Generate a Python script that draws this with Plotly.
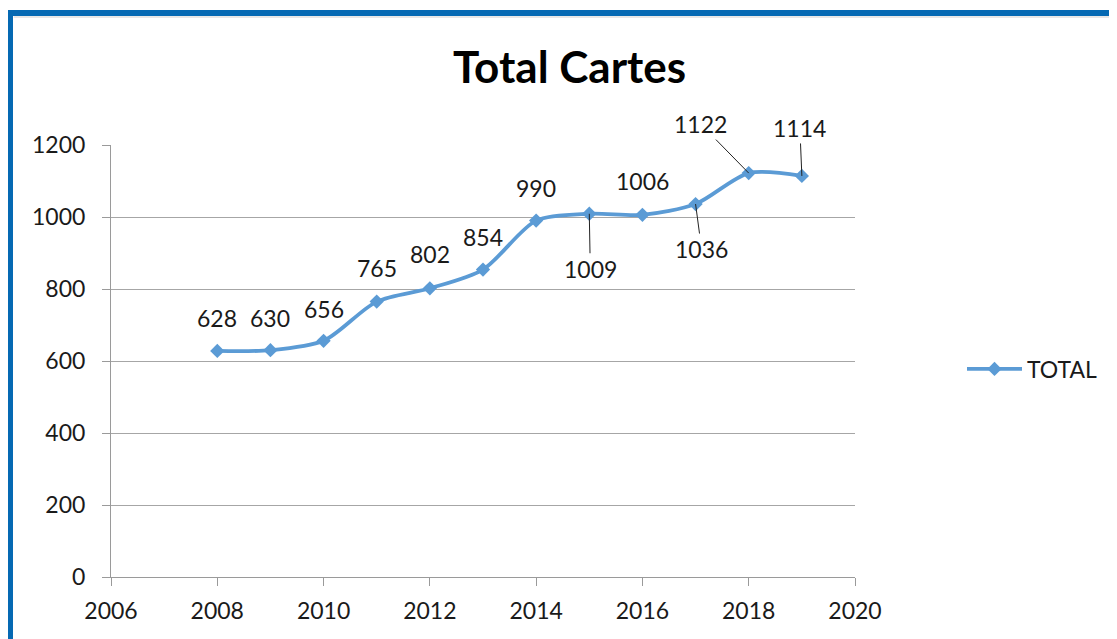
import plotly.graph_objects as go

years = [2008, 2009, 2010, 2011, 2012, 2013, 2014, 2015, 2016, 2017, 2018, 2019]
totals = [628, 630, 656, 765, 802, 854, 990, 1009, 1006, 1036, 1122, 1114]
series_name = "TOTAL"
title_text = "Total Cartes"

# label offsets in pixels (ax, ay, with leader line?)
label_offsets = {
    2008: (0, -33, False), 2009: (0, -32, False), 2010: (0, -32, False),
    2011: (0, -34, False), 2012: (0, -34, False), 2013: (0, -33, False),
    2014: (0, -33, False), 2015: (1, 55, True), 2016: (0, -34, False),
    2017: (6, 45, True), 2018: (-48, -49, True), 2019: (-2, -48, True),
}

LINE = "#5B9BD5"
FONT = "Lato"
TXT = "#1a1a1a"

fig = go.Figure()
fig.add_trace(go.Scatter(
    x=years, y=totals, name=series_name, mode="lines+markers",
    line=dict(color=LINE, width=3.8, shape="spline", smoothing=0.8),
    marker=dict(symbol="diamond", size=11, color=LINE),
))

annotations = []
for yr, v in zip(years, totals):
    ax, ay, arrow = label_offsets[yr]
    if arrow:
        annotations.append(dict(
            x=yr, y=v, xref="x", yref="y", text=str(v), showarrow=True,
            ax=ax, ay=ay, arrowhead=0, arrowwidth=1, arrowcolor="#222222",
            font=dict(family=FONT, size=23, color=TXT),
        ))
    else:
        annotations.append(dict(
            x=yr, y=v, xref="x", yref="y", text=str(v), showarrow=False,
            xshift=ax, yshift=-ay,
            font=dict(family=FONT, size=23, color=TXT),
        ))

annotations.append(dict(
    x=(569 - 111) / 744, y=(577 - 66) / 432, xref="paper", yref="paper",
    text="<b>" + title_text + "</b>", showarrow=False,
    font=dict(family=FONT, size=44, color="#000000"),
    xanchor="center", yanchor="middle",
))

frame_color = "#0569B3"
left_x = (10 - 111) / 744
top_y = (577 - 13) / 432
shapes = [
    dict(type="line", xref="paper", yref="paper", x0=left_x, x1=left_x,
         y0=-0.3, y1=top_y + 0.007, line=dict(color=frame_color, width=6)),
    dict(type="line", xref="paper", yref="paper", x0=left_x, x1=1.5,
         y0=top_y, y1=top_y, line=dict(color=frame_color, width=6)),
    dict(type="line", xref="paper", yref="paper", x0=left_x + 0.005, x1=1.5,
         y0=(577 - 17) / 432, y1=(577 - 17) / 432, line=dict(color="#CFCFCF", width=1)),
]

fig.update_layout(
    width=1117, height=639,
    margin=dict(l=103, r=270, t=137, b=70),
    paper_bgcolor="white", plot_bgcolor="white",
    font=dict(family=FONT, size=23, color=TXT),
    showlegend=True,
    legend=dict(x=(962 - 111) / 744, y=(577 - 369) / 432, xanchor="left",
                yanchor="middle", font=dict(family=FONT, size=23, color=TXT),
                bgcolor="rgba(0,0,0,0)", itemwidth=55),
    annotations=annotations, shapes=shapes,
    xaxis=dict(range=[2006, 2020], dtick=2, tick0=2006, showgrid=False,
               showline=True, linecolor="#9A9A9A", linewidth=1,
               ticks="outside", ticklen=8, tickcolor="#9A9A9A",
               ticklabelstandoff=5,
               tickfont=dict(family=FONT, size=23, color=TXT), zeroline=False),
    yaxis=dict(range=[0, 1200], dtick=200, showgrid=True, gridcolor="#A6A6A6",
               gridwidth=1, showline=True, linecolor="#9A9A9A", linewidth=1,
               ticks="outside", ticklen=8, tickcolor="#9A9A9A",
               ticklabelstandoff=12,
               tickfont=dict(family=FONT, size=23, color=TXT), zeroline=False),
)

fig.write_html("out.html")
